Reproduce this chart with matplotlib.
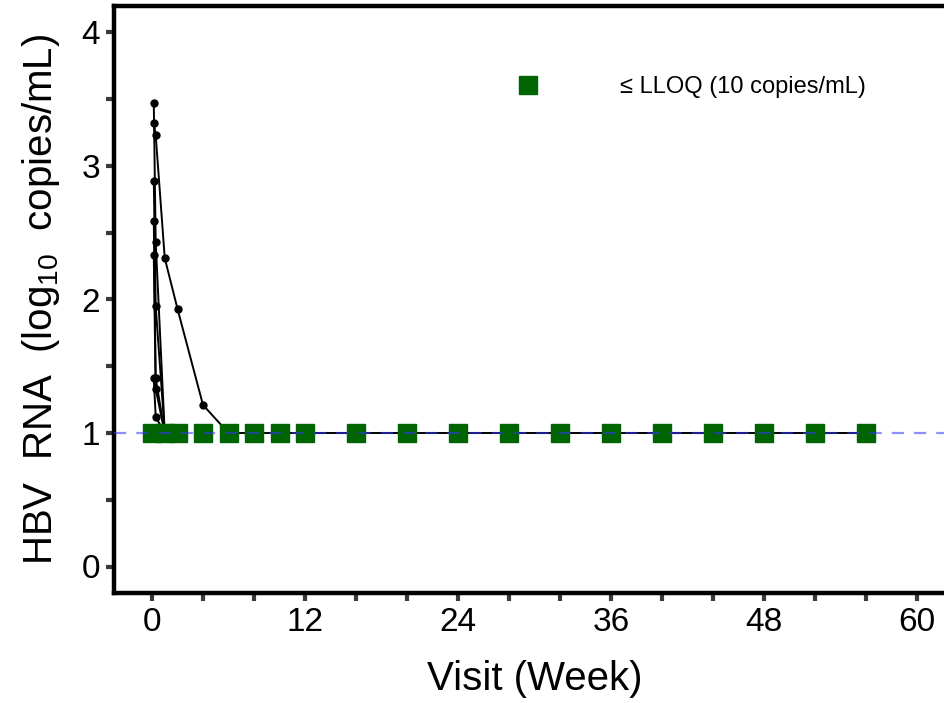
import matplotlib
matplotlib.use("Agg")
import matplotlib.pyplot as plt
from matplotlib.ticker import MultipleLocator

plt.rcParams['font.family'] = ['Liberation Sans', 'DejaVu Sans']
plt.rcParams['mathtext.fontset'] = 'custom'
plt.rcParams['mathtext.rm'] = 'Liberation Sans'
plt.rcParams['mathtext.it'] = 'Liberation Sans'

# Visit weeks for scheduled visits
visit_weeks = [0, 1, 2, 4, 6, 8, 10, 12, 16, 20, 24, 28, 32, 36, 40, 44, 48, 52, 56]
lloq_value = 1.0

# Individual participant trajectories (week, log10 HBV RNA)
p1_weeks = [0.14, 0.29, 1, 2, 4, 6, 8, 10, 12, 16, 20, 24, 28, 32, 36, 40, 44, 48, 52, 56]
p1_vals = [3.32, 3.23, 2.31, 1.93, 1.21, 1, 1, 1, 1, 1, 1, 1, 1, 1, 1, 1, 1, 1, 1, 1]
p2_weeks = [0.14, 0.29, 1, 2]
p2_vals = [3.47, 2.43, 1.0, 1.0]
p3_weeks = [0.14, 0.29, 1, 2]
p3_vals = [2.89, 1.95, 1.0, 1.0]
p4_weeks = [0.14, 0.29, 1, 2]
p4_vals = [2.59, 1.41, 1.0, 1.0]
p5_weeks = [0.14, 0.29, 1, 2]
p5_vals = [2.33, 1.33, 1.0, 1.0]
p6_weeks = [0.14, 0.29, 1, 2]
p6_vals = [1.41, 1.12, 1.0, 1.0]

participants = [(p1_weeks, p1_vals), (p2_weeks, p2_vals), (p3_weeks, p3_vals),
                (p4_weeks, p4_vals), (p5_weeks, p5_vals), (p6_weeks, p6_vals)]

x_major = 12
x_minor = 4
y_major = 1
y_minor = 0.5

W, H = 944, 703
fig = plt.figure(figsize=(W/100, H/100), dpi=100)
left_px, top_px, bottom_px, width_px = 113.75, 5.8, 593.2, 841.5
ax = fig.add_axes([left_px/W, 1-bottom_px/H, width_px/W, (bottom_px-top_px)/H])

for w, v in participants:
    ax.plot(w, v, color='black', lw=1.4, marker='o', ms=5, zorder=3)

ax.plot(visit_weeks, [lloq_value]*len(visit_weeks), linestyle='none', marker='s',
        ms=13, color='#006400', zorder=4, label='\u2264 LLOQ (10 copies/mL)')

ax.axhline(lloq_value, color='#3333ff', alpha=0.55, lw=1.6, ls=(0, (5.5, 4.5)), zorder=5)

ax.set_xlim(-3, 63)
ax.set_ylim(-0.2, 4.2)
ax.xaxis.set_major_locator(MultipleLocator(x_major))
ax.xaxis.set_minor_locator(MultipleLocator(x_minor))
ax.yaxis.set_major_locator(MultipleLocator(y_major))
ax.yaxis.set_minor_locator(MultipleLocator(y_minor))
ax.tick_params(axis='both', which='both', length=6, width=3, color='#3a3a3a')
ax.tick_params(axis='both', which='major', labelsize=24, pad=4)
for s in ax.spines.values():
    s.set_linewidth(3.2)
    s.set_color('black')

ax.set_xlabel('Visit (Week)', fontsize=29, labelpad=16)
ax.set_ylabel('HBV  RNA  (log$_{10}$  copies/mL)', fontsize=29, labelpad=14)

em = 17 * 100 / 72
ax.legend(loc='center left', bbox_to_anchor=((528 - em - left_px)/width_px, (bottom_px-87)/(bottom_px-top_px)),
          frameon=False, fontsize=17, handlelength=2, handletextpad=2.9,
          borderpad=0, borderaxespad=0)

fig.savefig('out.png', dpi=100)
